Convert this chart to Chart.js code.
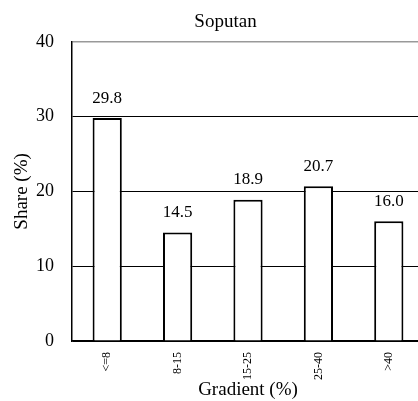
<!DOCTYPE html>
<html>
<head>
<meta charset="utf-8">
<script src="https://cdn.jsdelivr.net/npm/chart.js@4/dist/chart.umd.min.js"></script>
<style>
  html, body { margin: 0; padding: 0; background: #fff; overflow: hidden; }
  #wrap { width: 418px; height: 401px; overflow: hidden; }
  #box { width: 451px; height: 401px; }
</style>
</head>
<body>
<div id="wrap"><div id="box"><canvas id="chart"></canvas></div></div>
<script>
// data
const categories = ['<=8', '8-15', '15-25', '25-40', '>40'];
const shares = [29.8, 14.5, 18.9, 20.7, 16.0];
const yTicks = [0, 10, 20, 30, 40];

const serif = '"Liberation Serif", "Times New Roman", serif';

// value labels above each bar
const barLabels = {
  id: 'barLabels',
  afterDatasetsDraw(chart) {
    const ctx = chart.ctx;
    const meta = chart.getDatasetMeta(0);
    ctx.save();
    ctx.font = '17px ' + serif;
    ctx.fillStyle = '#000';
    ctx.textAlign = 'center';
    ctx.textBaseline = 'middle';
    meta.data.forEach((bar, i) => {
      ctx.fillText(shares[i].toFixed(1), bar.x, bar.y - 20);
    });
    ctx.restore();
  }
};

new Chart(document.getElementById('chart'), {
  type: 'bar',
  data: {
    labels: categories,
    datasets: [{
      data: shares,
      backgroundColor: '#fff',
      borderColor: '#000',
      borderWidth: 2,
      barPercentage: 0.83,
      categoryPercentage: 0.5
    }]
  },
  options: {
    responsive: true,
    maintainAspectRatio: false,
    animation: false,
    layout: { padding: 0 },
    plugins: {
      legend: { display: false },
      tooltip: { enabled: false },
      title: {
        display: true,
        text: 'Soputan',
        color: '#000',
        font: { family: serif, size: 19, weight: 'normal' },
        padding: { top: 11, bottom: 8 }
      }
    },
    scales: {
      x: {
        afterFit: axis => { axis.height = 60; },
        grid: { display: false },
        border: { display: true, color: '#000', width: 1.5 },
        ticks: {
          color: '#000',
          font: { family: serif, size: 12 },
          minRotation: 90,
          maxRotation: 90,
          padding: 3
        },
        title: {
          display: true,
          text: 'Gradient (%)',
          color: '#000',
          font: { family: serif, size: 19 },
          padding: { top: 2, bottom: 0 }
        }
      },
      y: {
        min: 0,
        max: 40,
        afterFit: axis => { axis.width = 72; },
        afterBuildTicks: axis => { axis.ticks = yTicks.map(v => ({ value: v })); },
        grid: {
          drawTicks: false,
          color: c => (c.tick && c.tick.value === 40 ? '#999' : '#000'),
          lineWidth: c => (c.tick && c.tick.value === 40 ? 1.5 : 1)
        },
        border: { display: true, color: '#000', width: 1.5 },
        ticks: {
          color: '#000',
          font: { family: serif, size: 18 },
          padding: 18
        },
        title: {
          display: true,
          text: 'Share (%)',
          color: '#000',
          font: { family: serif, size: 19 },
          padding: { top: 11, bottom: 0 }
        }
      },
      // empty strip on the right so the plot stops short of the canvas edge
      yRight: {
        position: 'right',
        afterFit: axis => { axis.width = 27; },
        grid: { display: false },
        border: { display: false },
        ticks: { display: false }
      }
    }
  },
  plugins: [barLabels]
});
</script>
</body>
</html>
